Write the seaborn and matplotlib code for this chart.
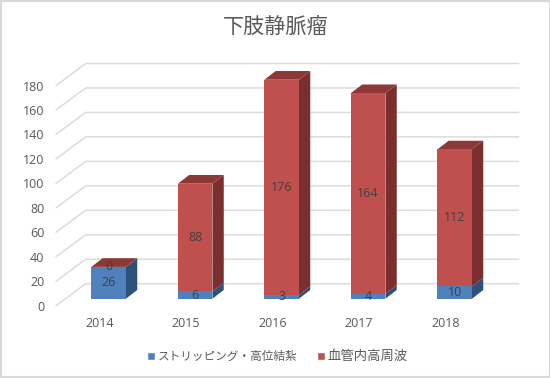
import matplotlib
matplotlib.use("Agg")
import matplotlib.pyplot as plt
from matplotlib.patches import Polygon, Rectangle
from matplotlib.transforms import ScaledTranslation
import seaborn as sns
import pandas as pd

years = ["2014", "2015", "2016", "2017", "2018"]
stripping = [26, 6, 3, 4, 10]
rf = [0, 88, 176, 164, 112]
yticks = list(range(0, 181, 20))
title = "下肢静脈瘤"
name_a = "ストリッピング・高位結紮"
name_b = "血管内高周波"

BLUE, BLUE_SIDE = "#4f81bd", "#2f5078"
RED, RED_SIDE, RED_TOP = "#c0504d", "#7a2f2e", "#8c3836"
GRID, TXT = "#dcdcdc", "#595959"
CJK = ["Noto Sans CJK JP", "DejaVu Sans"]

W, H = 550, 378
PITCH, UNIT = 86.5, 1.2233      # px per category / per value
BAR_W = 0.40
BAR_DX, BAR_DY = 11.3 / PITCH, 8.7 / UNIT      # bar depth in data units
WALL_DX, WALL_DY = 29.7 / PITCH, 22.0 / UNIT   # floor depth in data units
FRONT = -7.0 / UNIT                             # front floor edge below bar base

sns.set_theme(style="white")
fig = plt.figure(figsize=(W / 100, H / 100), dpi=100, facecolor="white")
left, right, bottom, top = 56.0, 518.7, 305.7, 62.0
ax = fig.add_axes([left / W, 1 - bottom / H, (right - left) / W, (bottom - top) / H])

df = pd.DataFrame({"year": years, "a": stripping, "b": rf})
sns.barplot(df, x="year", y="a", color=BLUE, saturation=1, width=BAR_W, ax=ax, zorder=4, linewidth=0)
sns.barplot(df, x="year", y="b", bottom=df["a"], color=RED, saturation=1, width=BAR_W, ax=ax, zorder=4, linewidth=0)

ax.set_xlim((left - 108.65) / PITCH, (right - 108.65) / PITCH)
ax.set_ylim(FRONT, (298.7 - top) / UNIT)

# gridlines: floor diagonal + back wall line
for v in yticks:
    y0 = v + FRONT
    y1 = y0 + WALL_DY
    ax.plot([ax.get_xlim()[0], ax.get_xlim()[0] + WALL_DX, ax.get_xlim()[1]], [y0, y1, y1],
            color=GRID, lw=1.1, zorder=1, clip_on=False, solid_joinstyle="miter")

# 3D side and top faces
for i, (a, b) in enumerate(zip(stripping, rf)):
    xr = i + BAR_W / 2
    xl = i - BAR_W / 2
    ax.add_patch(Polygon([(xr, 0), (xr + BAR_DX, BAR_DY), (xr + BAR_DX, a + BAR_DY), (xr, a)],
                         fc=BLUE_SIDE, ec="none", zorder=3))
    ax.add_patch(Polygon([(xr, a), (xr + BAR_DX, a + BAR_DY), (xr + BAR_DX, a + b + BAR_DY), (xr, a + b)],
                         fc=RED_SIDE, ec="none", zorder=3))
    ax.add_patch(Polygon([(xl, a + b), (xr, a + b), (xr + BAR_DX, a + b + BAR_DY), (xl + BAR_DX, a + b + BAR_DY)],
                         fc=RED_TOP, ec="none", zorder=3))

for c in ax.containers:
    for t in ax.bar_label(c, label_type="center", fontsize=9, color="#404040",
                          family="Open Sans", zorder=6):
        t.set_zorder(6)

for s in ax.spines.values():
    s.set_visible(False)
ax.set_xlabel("")
ax.set_ylabel("")
ax.set_yticks(yticks)
ax.set_xticks(range(len(years)), years)
ax.tick_params(axis="both", length=0, labelsize=9, labelcolor=TXT)
ax.tick_params(axis="y", pad=8.5)
ax.tick_params(axis="x", pad=8.0)
for lab in ax.get_xticklabels() + ax.get_yticklabels():
    lab.set_family("Open Sans")
for lab in ax.get_yticklabels():
    lab.set_transform(lab.get_transform() + ScaledTranslation(0, -7 / 100, fig.dpi_scale_trans))
for lab in ax.get_xticklabels():
    lab.set_transform(lab.get_transform() + ScaledTranslation(-9 / 100, 0, fig.dpi_scale_trans))

fig.text(276 / W, 1 - 27 / H, title, ha="center", va="center", fontsize=15.2, color=TXT, family=CJK)

handles = [Rectangle((0, 0), 1, 1, fc=BLUE), Rectangle((0, 0), 1, 1, fc=RED)]
leg = fig.legend(handles, [name_a, name_b], loc="center", bbox_to_anchor=(277.5 / W, 1 - 356 / H), ncol=2,
                 frameon=False, prop={"family": CJK, "size": 8.4}, labelcolor=TXT,
                 handlelength=0.72, handleheight=0.72, handletextpad=0.25, columnspacing=1.6, borderpad=0)
leg.get_texts()[1].set_fontsize(9.6)

# chart frame
fig.add_artist(Rectangle((1 / W, 0.7 / H), 548.6 / W, 1 - 1.4 / H, transform=fig.transFigure,
                         fc="none", ec="#d9d9d9", lw=1.5))

fig.savefig("out.png", dpi=100)
